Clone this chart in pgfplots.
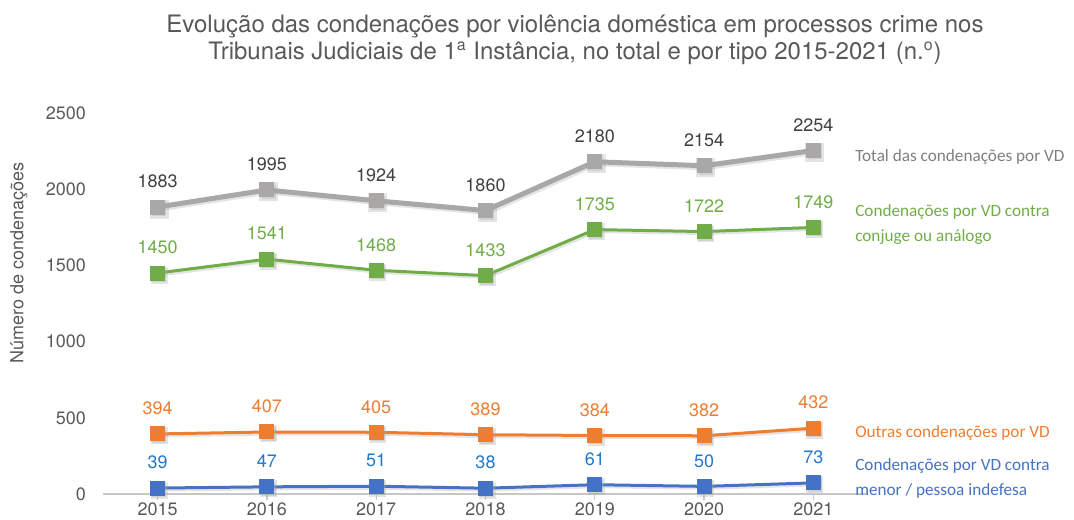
\documentclass[border=0pt]{standalone}
\usepackage{pgfplots}
\pgfplotsset{compat=1.18}
\usepackage{fontspec}
\setmainfont{TeX Gyre Heros}
\newfontfamily\calibri{Carlito}

\definecolor{totgray}{RGB}{170,167,167}
\definecolor{vdgreen}{RGB}{112,173,71}
\definecolor{vdorange}{RGB}{237,125,49}
\definecolor{vdblue}{RGB}{68,114,196}
\definecolor{lblblue}{RGB}{34,120,200}
\definecolor{txtgray}{RGB}{89,89,89}
\definecolor{lblgray}{RGB}{64,64,64}
\definecolor{leggray}{RGB}{127,127,127}

\begin{document}
\begin{tikzpicture}
\begin{axis}[
    at={(51.5pt,12.5pt)}, anchor=south west,
    scale only axis, width=382.5pt, height=190.5pt,
    xmin=2014.5, xmax=2021.5,
    ymin=0, ymax=2500,
    xtick={2015,2016,2017,2018,2019,2020,2021},
    ytick={0,500,1000,1500,2000,2500},
    axis x line*=bottom, axis y line*=left,
    y axis line style={draw=none},
    ytick style={draw=none},
    x axis line style={draw=black!22, line width=0.7pt, -},
    xtick style={draw=black!22, line width=0.7pt},
    tick align=outside, major tick length=3pt,
    /pgf/number format/1000 sep={},
    /pgf/number format/assume math mode=true,
    tick label style={font=\fontsize{9}{10}\selectfont, text=txtgray},
    yticklabel style={xshift=-2pt},
    xticklabel style={yshift=2pt},
    clip=false,
    every node near coord/.append style={font=\fontsize{9}{10}\selectfont, inner sep=0pt, anchor=south, yshift=9.5pt},
]
% shadows
\addplot[black!35, opacity=0.3, line width=2.5pt, mark=square*, mark size=3.5pt, xshift=0.8pt, yshift=-1pt]
  coordinates {(2015,1883)(2016,1995)(2017,1924)(2018,1860)(2019,2180)(2020,2154)(2021,2254)};
\addplot[black!35, opacity=0.3, line width=1.5pt, mark=square*, mark size=3.5pt, xshift=0.8pt, yshift=-1pt]
  coordinates {(2015,1450)(2016,1541)(2017,1468)(2018,1433)(2019,1735)(2020,1722)(2021,1749)};
\addplot[black!35, opacity=0.3, line width=1.5pt, mark=square*, mark size=3.5pt, xshift=0.8pt, yshift=-1pt]
  coordinates {(2015,394)(2016,407)(2017,405)(2018,389)(2019,384)(2020,382)(2021,432)};
\addplot[black!35, opacity=0.3, line width=1.5pt, mark=square*, mark size=3.5pt, xshift=0.8pt, yshift=-1pt]
  coordinates {(2015,39)(2016,47)(2017,51)(2018,38)(2019,61)(2020,50)(2021,73)};
% series
\addplot[totgray, line width=2.5pt, mark=square*, mark size=3.5pt, mark options={line width=0pt},
  nodes near coords, every node near coord/.append style={text=lblgray}]
  coordinates {(2015,1883)(2016,1995)(2017,1924)(2018,1860)(2019,2180)(2020,2154)(2021,2254)};
\addplot[vdgreen, line width=1.5pt, mark=square*, mark size=3.5pt, mark options={line width=0pt},
  nodes near coords, every node near coord/.append style={text=vdgreen}]
  coordinates {(2015,1450)(2016,1541)(2017,1468)(2018,1433)(2019,1735)(2020,1722)(2021,1749)};
\addplot[vdorange, line width=1.5pt, mark=square*, mark size=3.5pt, mark options={line width=0pt},
  nodes near coords, every node near coord/.append style={text=vdorange}]
  coordinates {(2015,394)(2016,407)(2017,405)(2018,389)(2019,384)(2020,382)(2021,432)};
\addplot[vdblue, line width=1.5pt, mark=square*, mark size=3.5pt, mark options={line width=0pt},
  nodes near coords, every node near coord/.append style={text=lblblue}]
  coordinates {(2015,39)(2016,47)(2017,51)(2018,38)(2019,61)(2020,50)(2021,73)};

% series names at the right
\begin{scope}[every node/.style={anchor=west, inner sep=0pt, align=left,
    font=\calibri\fontsize{8.6}{12.5}\selectfont}]
\node[text=leggray] at (axis cs:2021.38,2211) {Total das condenações por VD};
\node[text=vdgreen, anchor=north west] at (axis cs:2021.38,1900) {Condenações por VD contra\\conjuge ou análogo};
\node[text=vdorange] at (axis cs:2021.38,400) {Outras condenações por VD};
\node[text=vdblue, anchor=north west] at (axis cs:2021.38,235) {Condenações por VD contra\\menor / pessoa indefesa};
\end{scope}

\node[rotate=90, text=txtgray, font=\fontsize{9}{10}\selectfont] at (axis cs:2013.73,1516) {Número de condenações};
\end{axis}

\node[text=txtgray, align=center, font=\fontsize{12}{13.5}\selectfont] at (287.5pt,239.5pt)
  {Evolução das condenações por violência doméstica em processos crime nos\\Tribunais Judiciais de 1\textsuperscript{a} Instância, no total e por tipo 2015-2021 (n.\textsuperscript{o})};

\pgfresetboundingbox
\path (0,0) rectangle (537pt,259.5pt);
\end{tikzpicture}
\end{document}
